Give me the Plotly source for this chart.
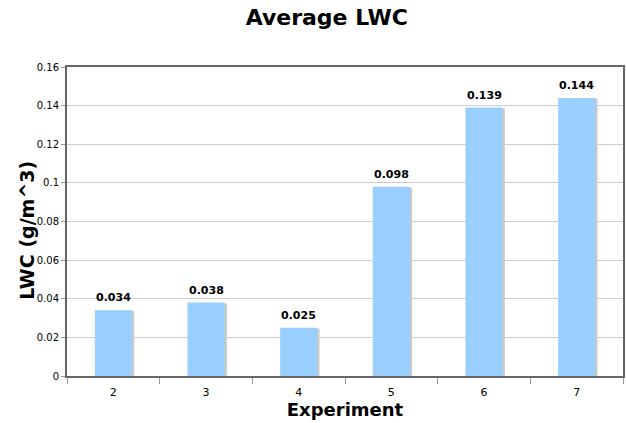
import plotly.graph_objects as go

# Average liquid water content per experiment
experiments = ["2", "3", "4", "5", "6", "7"]
lwc = [0.034, 0.038, 0.025, 0.098, 0.139, 0.144]
y_ticks = [0, 0.02, 0.04, 0.06, 0.08, 0.1, 0.12, 0.14, 0.16]

FONT = "DejaVu Sans, Verdana, sans-serif"
BAR_W = 0.40

fig = go.Figure()

# soft drop shadow behind each bar
fig.add_trace(go.Bar(
    x=experiments, y=[v - 0.0005 for v in lwc],
    width=BAR_W, offset=-BAR_W / 2 + 0.025,
    marker=dict(color="#c9c9c9", line=dict(width=0)),
    hoverinfo="skip", showlegend=False,
))

fig.add_trace(go.Bar(
    x=experiments, y=lwc,
    width=BAR_W, offset=-BAR_W / 2,
    marker=dict(color="#99cfff", line=dict(width=0)),
    showlegend=False,
))

# value labels above the bars (category axis positions are indices)
for i, v in enumerate(lwc):
    fig.add_annotation(
        x=i, y=v, text=f"<b>{v:.3f}</b>", showarrow=False,
        yanchor="bottom", yshift=4,
        font=dict(family=FONT, size=11, color="#000"),
    )

# y-axis title placed next to the tick labels
fig.add_annotation(
    text="<b>LWC (g/m^3)</b>", textangle=-90,
    xref="paper", yref="paper", x=0, y=0.47,
    xanchor="center", yanchor="middle", xshift=-40, showarrow=False,
    font=dict(family=FONT, size=19, color="#000"),
)

fig.update_layout(
    width=626, height=423,
    margin=dict(l=67, r=1, t=67, b=47),
    paper_bgcolor="white", plot_bgcolor="white",
    barmode="overlay",
    title=dict(
        text="<b>Average LWC</b>", xref="container", x=0.522, xanchor="center",
        y=0.958, yanchor="middle",
        font=dict(family=FONT, size=22, color="#000"),
    ),
    font=dict(family=FONT, size=10, color="#000"),
)

fig.update_xaxes(
    type="category", range=[-0.5, 5.5],
    tickson="boundaries", ticks="outside", ticklen=6,
    tickcolor="#999", showgrid=False, ticklabelstandoff=5,
    showline=True, linecolor="#666", linewidth=2, mirror=True,
    tickfont=dict(family=FONT, size=11, color="#000"),
    title=dict(text="<b>Experiment</b>", standoff=0,
               font=dict(family=FONT, size=18, color="#000")),
)

fig.update_yaxes(
    range=[0, 0.16], tickvals=y_ticks,
    ticktext=[f"{t:g}" for t in y_ticks],
    ticks="outside", ticklen=4, tickcolor="#999",
    showgrid=True, gridcolor="#cccccc", gridwidth=1,
    showline=True, linecolor="#666", linewidth=2, mirror=True,
    zeroline=False,
    tickfont=dict(family=FONT, size=10, color="#000"),
)

fig.write_html("out.html")
